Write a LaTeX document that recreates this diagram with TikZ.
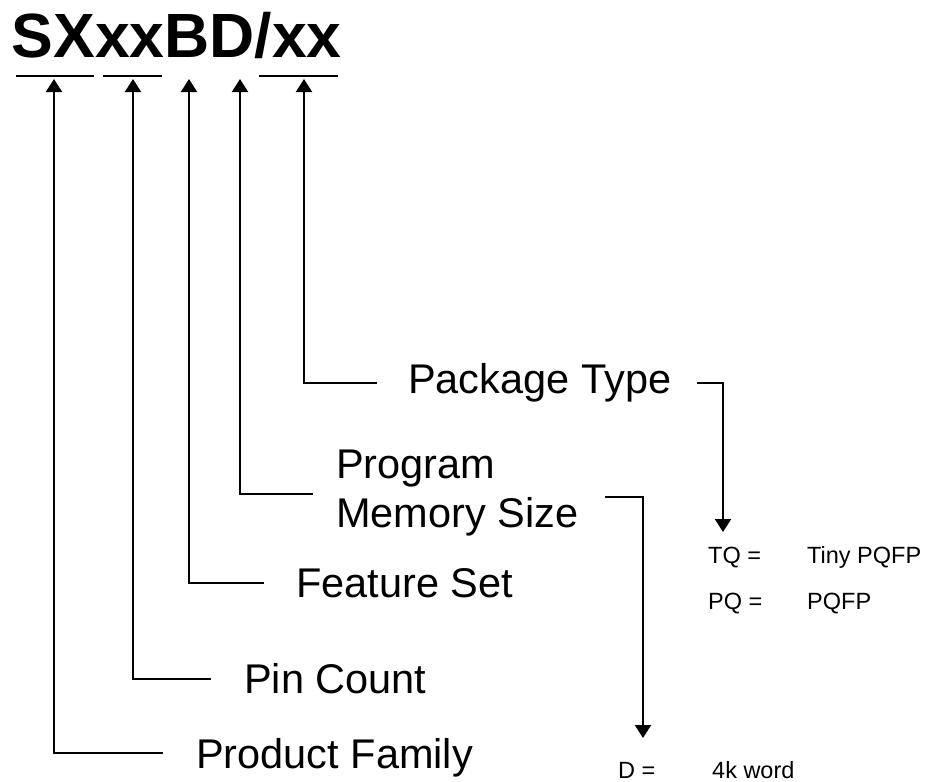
\documentclass[tikz,border=0pt]{standalone}
\usepackage{fontspec}
\setmainfont{Liberation Sans}
\usetikzlibrary{arrows.meta}
\begin{document}
\begin{tikzpicture}[x=1pt,y=-1pt,
  lbl/.style={font=\fontsize{41.5}{49}\selectfont, anchor=base west, inner sep=0pt},
  sml/.style={font=\fontsize{23.5}{27}\selectfont, anchor=base west, inner sep=0pt},
  conn/.style={line width=2pt},
  arr/.style={conn,-{Triangle[width=16pt,length=13pt]}}]
\useasboundingbox (0,0) rectangle (938,782);
% title
\node[anchor=base west, inner sep=0pt, font=\fontsize{62.5}{70}\selectfont\bfseries] (title) at (11.5,57) {SXxxBD/xx};
% underlines
\coordinate (u1a) at (16,76); \coordinate (u1b) at (94,76);
\coordinate (u2a) at (103,76); \coordinate (u2b) at (162,76);
\coordinate (u3a) at (259,76); \coordinate (u3b) at (338,76);
\draw[conn] (u1a) -- (u1b);
\draw[conn] (u2a) -- (u2b);
\draw[conn] (u3a) -- (u3b);
% labels
\node[lbl] (pt) at (408,393) {Package Type};
\node[lbl] (prog) at (336,478) {Program};
\node[lbl] (mem) at (336,527) {Memory Size};
\node[lbl] (fs) at (296,597) {Feature Set};
\node[lbl] (pc) at (244,693) {Pin Count};
\node[lbl] (pf) at (196,768) {Product Family};
% small texts
\node[sml] (tq) at (708,563) {TQ =};
\node[sml] (tqv) at (807,563) {Tiny PQFP};
\node[sml] (pq) at (708,609) {PQ =};
\node[sml] (pqv) at (807,609) {PQFP};
\node[sml] (d) at (618,778) {D =};
\node[sml] (dv) at (712,778) {4k word};
% arrow targets below title
\coordinate (aPF) at (54,79);
\coordinate (aPC) at (133,79);
\coordinate (aFS) at (189,79);
\coordinate (aPM) at (240,79);
\coordinate (aPT) at (304,79);
% left ends of connectors
\coordinate (lPF) at (163,753);
\coordinate (lPC) at (211,679);
\coordinate (lFS) at (264,583);
\coordinate (lPM) at (313,494);
\coordinate (lPT) at (377,383);
\draw[arr] (lPF) -| (aPF);
\draw[arr] (lPC) -| (aPC);
\draw[arr] (lFS) -| (aFS);
\draw[arr] (lPM) -| (aPM);
\draw[arr] (lPT) -| (aPT);
% right brackets
\coordinate (rPT) at (697,383);
\coordinate (eTQ) at (723,532);
\coordinate (rPM) at (605,497);
\coordinate (eD) at (643,738);
\draw[arr] (rPT) -| (eTQ);
\draw[arr] (rPM) -| (eD);
\end{tikzpicture}
\end{document}
